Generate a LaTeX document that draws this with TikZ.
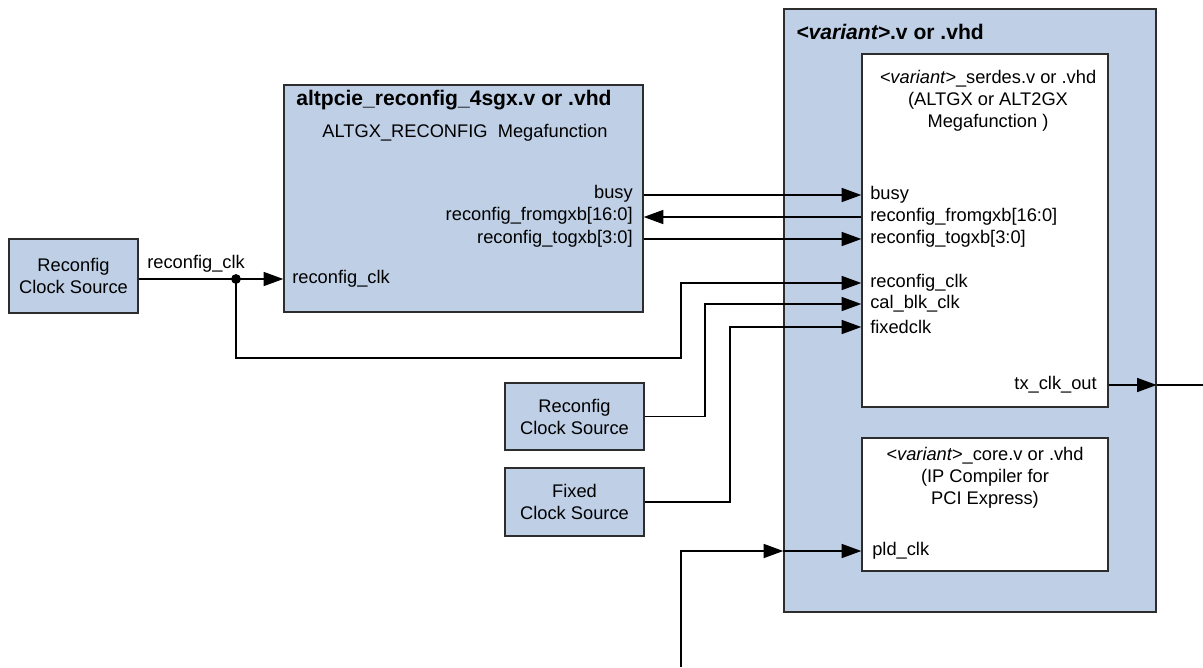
\documentclass[tikz,border=0pt]{standalone}
\usepackage{fontspec}
\setmainfont{Liberation Sans}
\usetikzlibrary{positioning, fit, arrows.meta, calc}
\definecolor{boxblue}{RGB}{190,207,230}
\definecolor{edge}{RGB}{45,45,45}

\tikzset{
    blk/.style={draw=edge, fill=boxblue, line width=1pt, inner sep=0pt},
    subblk/.style={draw=edge, fill=white, line width=1pt, inner sep=0pt},
    port/.style={font=\fontsize{13}{15.6}\selectfont, inner sep=0pt},
    caption/.style={font=\fontsize{15}{18}\selectfont\bfseries, inner sep=0pt, anchor=west},
    sig/.style={line width=1pt, -{Triangle[length=14pt,width=10pt]}},
    wire/.style={line width=1pt},
}

\begin{document}
\begin{tikzpicture}[x=0.025cm, y=-0.025cm]
    \useasboundingbox (0,0) rectangle (1203,667);

    % Clock sources
    \node[blk, fit={(9,239) (138,313)}] (rcsA) {};
    \node[port, align=center] at (rcsA.center) {Reconfig\\Clock Source};
    \node[blk, fit={(505,383) (644,450)}] (rcsB) {};
    \node[port, align=center] at (rcsB.center) {Reconfig\\Clock Source};
    \node[blk, fit={(505,468) (644,536)}] (fcs) {};
    \node[port, align=center] at (fcs.center) {Fixed\\Clock Source};

    % altpcie_reconfig block
    \node[blk, fit={(284,85) (643,312)}] (alt) {};
    \node[caption] at (296,100) {altpcie\_reconfig\_4sgx.v or .vhd};
    \node[port] at (465,133) {ALTGX\_RECONFIG\ \ Megafunction};
    \node[port, anchor=east] (busyA) at (633,194) {busy};
    \node[port, anchor=east] (fromA) at (633,216) {reconfig\_fromgxb[16:0]};
    \node[port, anchor=east] (togA) at (633,239) {reconfig\_togxb[3:0]};
    \node[port, anchor=west] (rclkA) at (292,279) {reconfig\_clk};

    % variant block
    \node[blk, fit={(784,9) (1156,612)}] (var) {};
    \node[caption] at (796,32) {\textit{<variant>}.v or .vhd};

    % serdes
    \node[subblk, fit={(862,54) (1108,407)}] (serdes) {};
    \node[port, align=center] at (988,101)
        {\textit{<variant>}\_serdes.v or .vhd\\(ALTGX or ALT2GX\\Megafunction )};
    \node[port, anchor=west] (busyS) at (870,195) {busy};
    \node[port, anchor=west] (fromS) at (870,217) {reconfig\_fromgxb[16:0]};
    \node[port, anchor=west] (togS) at (870,239) {reconfig\_togxb[3:0]};
    \node[port, anchor=west] (rclkS) at (870,283) {reconfig\_clk};
    \node[port, anchor=west] (calS) at (870,304) {cal\_blk\_clk};
    \node[port, anchor=west] (fixS) at (870,327) {fixedclk};
    \node[port, anchor=east] (txS) at (1097,385) {tx\_clk\_out};

    % core
    \node[subblk, fit={(862,438) (1108,571)}] (core) {};
    \node[port, align=center] at (985,478)
        {\textit{<variant>}\_core.v or .vhd\\(IP Compiler for\\PCI Express)};
    \node[port, anchor=west] (pldC) at (872,551) {pld\_clk};

    % reconfig clock from left source
    \coordinate (jn) at (236,279);
    \coordinate (loop) at (681,358);
    \draw[wire] (rcsA.east |- jn) -- (jn);
    \draw[sig] (jn) -- (alt.west |- jn);
    \fill (jn) circle (3.5pt);
    \node[port, anchor=west] (rclkW) at (147,264) {reconfig\_clk};
    \draw[sig] (jn) |- (loop) |- (serdes.west |- rclkS);

    % reconfiguration signals
    \draw[sig] (alt.east |- busyS) -- (serdes.west |- busyS);
    \draw[sig] (serdes.west |- fromS) -- (alt.east |- fromS);
    \draw[sig] (alt.east |- togS) -- (serdes.west |- togS);

    % other clock sources
    \draw[sig] (rcsB.east) -| (705,304) -- (serdes.west |- calS);
    \draw[sig] (fcs.east) -| (730,327) -- (serdes.west |- fixS);

    % tx_clk_out
    \coordinate (txend) at (1203,385);
    \draw[sig] (serdes.east |- txS) -- (var.east |- txS);
    \draw[wire] (var.east |- txS) -- (txend);

    % pld_clk
    \coordinate (pldin) at (681,667);
    \draw[sig] (pldin) |- (var.west |- pldC);
    \draw[sig] (var.west |- pldC) -- (core.west |- pldC);
\end{tikzpicture}
\end{document}
